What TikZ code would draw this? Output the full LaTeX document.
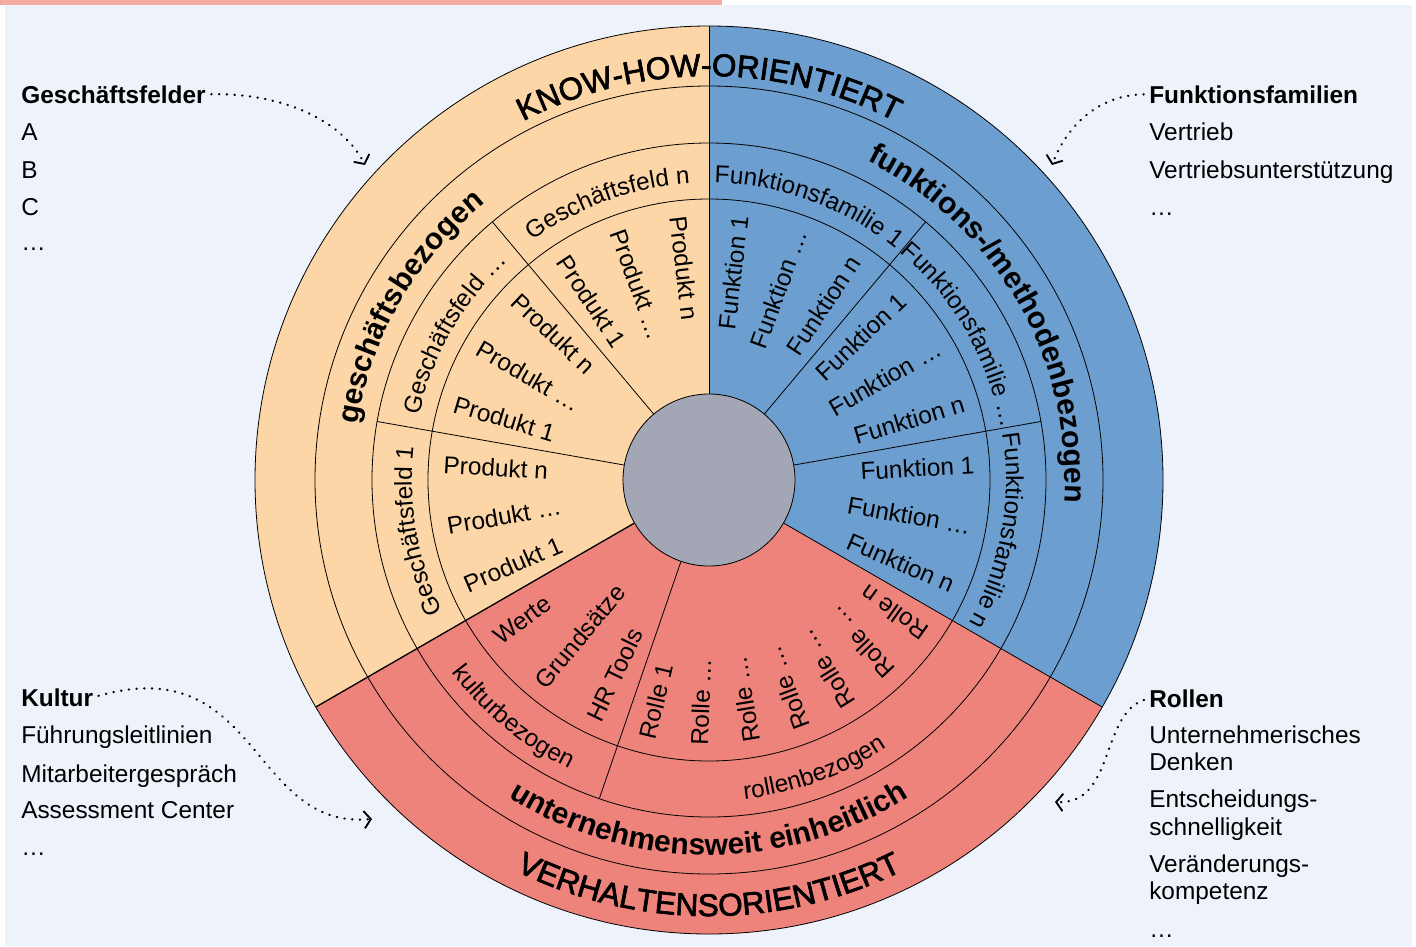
\documentclass[tikz,border=0pt]{standalone}
\usepackage{fontspec}
\setmainfont{Liberation Sans}
\newfontfamily\kappenfont[FakeBold=2.2]{Liberation Sans}
\usetikzlibrary{decorations.text,arrows.meta}

\definecolor{seite}{RGB}{238,242,250}
\definecolor{balken}{RGB}{245,171,160}
\definecolor{knowhow}{RGB}{252,214,166}
\definecolor{methode}{RGB}{108,158,207}
\definecolor{verhalten}{RGB}{238,131,123}
\definecolor{kern}{RGB}{163,166,180}

\newcommand\grundschrift{\fontsize{18.3}{21}\selectfont}
\newcommand\ringschrift{\fontsize{22.5}{26}\selectfont\bfseries}
\newcommand\kappenschrift{\fontsize{23.6}{28}\selectfont\kappenfont}

\tikzset{
  linie/.style={line width=0.6pt},
  liste/.style={anchor=base west, inner sep=0pt, font=\grundschrift},
  kopf/.style={liste, font=\grundschrift\bfseries},
  innen/.style={anchor=west, inner sep=0pt, font=\grundschrift},  % reads towards the centre
  aussen/.style={anchor=east, inner sep=0pt, font=\grundschrift}, % reads outwards
  hinweis/.style={line width=1.8pt, dash pattern=on 0.2pt off 5.6pt, line cap=round,
    shorten <=4pt, -{Straight Barb[length=5pt,width=13pt,line width=1.4pt]}},
}
% text along an arc: #1 font, #2 radius, #3 start angle, #4 end angle, #5 text
\newcommand\bogentext[5]{%
  \path[decorate, decoration={text along path, text align=center,
    text={|#1|#5}}] (#3:#2) arc[start angle=#3, end angle=#4, radius=#2];}

\begin{document}
\begin{tikzpicture}[x=0.75pt,y=0.75pt,yscale=-1,xscale=1]
        \useasboundingbox (0,0) rectangle (1416,946);
        \fill[white] (0,0) rectangle (1416,946);
        \fill[seite] (5,5) rectangle (1412,946);
        \fill[balken] (0,0) rectangle (722,5);

        % the wheel, angles counted counterclockwise from the centre
        \begin{scope}[shift={(709,480)},yscale=-1]
        \fill[knowhow] (0,0) -- (90:454) arc[start angle=90,end angle=210,radius=454] -- cycle;
        \fill[verhalten] (0,0) -- (210:454) arc[start angle=210,end angle=330,radius=454] -- cycle;
        \fill[methode] (0,0) -- (330:454) arc[start angle=330,end angle=450,radius=454] -- cycle;

        \draw[linie] (0,0) circle[radius=454];
        \draw[linie] (0,0) circle[radius=394];
        \draw[linie] (0,0) circle[radius=337];
        \draw[linie] (0,0) circle[radius=281];

        \draw[linie] (90:86) -- (90:454);
        \draw[line width=1pt] (210:86) -- (210:454);
        \draw[linie] (330:86) -- (330:454);
        \draw[linie] (130:86) -- (130:337);
        \draw[linie] (170:86) -- (170:337);
        \draw[linie] (50:86) -- (50:337);
        \draw[linie] (10:86) -- (10:337);
        \draw[linie] (251:86) -- (251:337);

        \filldraw[linie, fill=kern] (0,0) circle[radius=86];

        % outer rings
        \bogentext{\kappenschrift}{404}{180}{0}{KNOW-HOW-ORIENTIERT}
        \bogentext{\kappenschrift}{436}{210}{330}{VERHALTENSORIENTIERT}
        \bogentext{\ringschrift}{356}{210}{90}{geschäftsbezogen}
        \bogentext{\ringschrift}{356}{90}{-30}{funktions-/methodenbezogen}
        \bogentext{\ringschrift}{375}{210}{330}{unternehmensweit einheitlich}

        % middle ring
        \bogentext{\grundschrift}{297}{170}{50}{Geschäftsfeld n}
        \bogentext{\grundschrift}{297}{210}{90}{Geschäftsfeld …}
        \bogentext{\grundschrift}{297}{250}{130}{Geschäftsfeld 1}
        \bogentext{\grundschrift}{297}{130}{10}{Funktionsfamilie 1}
        \bogentext{\grundschrift}{297}{90}{-30}{Funktionsfamilie …}
        \bogentext{\grundschrift}{297}{50}{-70}{Funktionsfamilie n}
        \bogentext{\grundschrift}{321}{170}{291}{kulturbezogen}
        \bogentext{\grundschrift}{321}{230}{350}{rollenbezogen}

        % inner ring
        \node[innen, rotate=276.7] (pa-n) at (96.7:266) {Produkt n};
        \node[innen, rotate=290] (pa-m) at (110:266) {Produkt …};
        \node[innen, rotate=303.3] (pa-1) at (123.3:266) {Produkt 1};
        \node[innen, rotate=316.7] (pb-n) at (136.7:266) {Produkt n};
        \node[innen, rotate=330] (pb-m) at (150:266) {Produkt …};
        \node[innen, rotate=343.3] (pb-1) at (163.3:266) {Produkt 1};
        \node[innen, rotate=356.7] (pc-n) at (176.7:266) {Produkt n};
        \node[innen, rotate=10] (pc-m) at (190:266) {Produkt …};
        \node[innen, rotate=23.3] (pc-1) at (203.3:266) {Produkt 1};

        \node[aussen, rotate=83.3] (fa-1) at (83.3:266) {Funktion 1};
        \node[aussen, rotate=70] (fa-m) at (70:266) {Funktion …};
        \node[aussen, rotate=56.7] (fa-n) at (56.7:266) {Funktion n};
        \node[aussen, rotate=43.3] (fb-1) at (43.3:266) {Funktion 1};
        \node[aussen, rotate=30] (fb-m) at (30:266) {Funktion …};
        \node[aussen, rotate=16.7] (fb-n) at (16.7:266) {Funktion n};
        \node[aussen, rotate=3.3] (fc-1) at (3.3:266) {Funktion 1};
        \node[aussen, rotate=-10] (fc-m) at (-10:266) {Funktion …};
        \node[aussen, rotate=-23.3] (fc-n) at (-23.3:266) {Funktion n};

        \node[innen, rotate=36.8] (werte) at (216.8:266) {Werte};
        \node[innen, rotate=50.5] (grundsaetze) at (230.5:266) {Grundsätze};
        \node[innen, rotate=64.2] (hrtools) at (244.2:266) {HR Tools};

        \node[innen, rotate=76.6] (rolle-1) at (256.6:266) {Rolle 1};
        \node[innen, rotate=87.9] (rolle-2) at (267.9:266) {Rolle …};
        \node[innen, rotate=99.2] (rolle-3) at (279.2:266) {Rolle …};
        \node[innen, rotate=110.5] (rolle-4) at (290.5:266) {Rolle …};
        \node[innen, rotate=121.8] (rolle-5) at (301.8:266) {Rolle …};
        \node[innen, rotate=133.1] (rolle-6) at (313.1:266) {Rolle …};
        \node[innen, rotate=144.4] (rolle-n) at (324.4:266) {Rolle n};
        \end{scope}

        % lists round the wheel
        \node[kopf] (geschaeftsfelder) at (21,103) {Geschäftsfelder};
        \node[liste] (feld-a) at (21,140) {A};
        \node[liste] (feld-b) at (21,178) {B};
        \node[liste] (feld-c) at (21,215) {C};
        \node[liste] (feld-m) at (21,250) {…};

        \node[kopf] (funktionsfamilien) at (1149,103) {Funktionsfamilien};
        \node[liste] (vertrieb) at (1149,140) {Vertrieb};
        \node[liste] (vertriebsunt) at (1149,178) {Vertriebsunterstützung};
        \node[liste] (familie-m) at (1149,215) {…};

        \node[kopf] (kultur) at (21,706) {Kultur};
        \node[liste] (fuehrung) at (21,743) {Führungsleitlinien};
        \node[liste] (gespraech) at (21,782) {Mitarbeitergespräch};
        \node[liste] (assessment) at (21,818) {Assessment Center};
        \node[liste] (kultur-m) at (21,855) {…};

        \node[kopf] (rollen) at (1149,707) {Rollen};
        \node[liste] (unternehmer) at (1149,743) {Unternehmerisches};
        \node[liste] (denken) at (1149,770) {Denken};
        \node[liste] (entscheidung) at (1149,807) {Entscheidungs-};
        \node[liste] (schnell) at (1149,835) {schnelligkeit};
        \node[liste] (veraenderung) at (1149,872) {Veränderungs-};
        \node[liste] (kompetenz) at (1149,899) {kompetenz};
        \node[liste] (rollen-m) at (1149,937) {…};

        \coordinate (gf-ziel) at (365,165);
        \coordinate (ff-ziel) at (1052,165);
        \coordinate (ku-ziel) at (372,819);
        \coordinate (ro-ziel) at (1055,802);

        \draw[hinweis] (geschaeftsfelder.east) .. controls (290,93) and (345,125) .. (gf-ziel);
        \draw[hinweis] (funktionsfamilien.west) .. controls (1095,95) and (1065,130) .. (ff-ziel);
        \draw[hinweis] (kultur.east) .. controls (260,650) and (250,830) .. (ku-ziel);
        \draw[hinweis] (rollen.west) .. controls (1100,715) and (1115,805) .. (ro-ziel);
    \end{tikzpicture}
\end{document}
